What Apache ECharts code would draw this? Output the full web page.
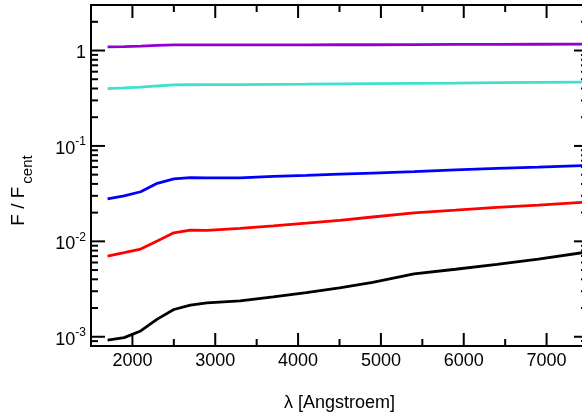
<!DOCTYPE html>
<html>
<head>
<meta charset="UTF-8">
<script src="https://cdn.jsdelivr.net/npm/echarts@6/dist/echarts.min.js"></script>
<style>
    html, body { margin: 0; padding: 0; background: #fff; }
    #chart { width: 582px; height: 412px; }
</style>
</head>
<body>
<div id="chart"></div>
<script>
    // wavelength grid (Angstroem) and flux ratios
    var wavelength = [1700, 1900, 2100, 2300, 2500, 2700, 2900, 3300, 3700, 4100, 4500, 4900, 5400, 5900, 6400, 6900, 7450];
    var fluxPurple = [1.093, 1.10, 1.112, 1.13, 1.145, 1.147, 1.148, 1.148, 1.148, 1.148, 1.149, 1.15, 1.155, 1.158, 1.16, 1.163, 1.167];
    var fluxCyan   = [0.399, 0.405, 0.413, 0.425, 0.436, 0.438, 0.439, 0.440, 0.442, 0.444, 0.447, 0.450, 0.453, 0.456, 0.460, 0.463, 0.466];
    var fluxBlue   = [0.0278, 0.0299, 0.0331, 0.0406, 0.0451, 0.0465, 0.0462, 0.0462, 0.0480, 0.0492, 0.0506, 0.0520, 0.0537, 0.0560, 0.0583, 0.0600, 0.0622];
    var fluxRed    = [0.0070, 0.0076, 0.0083, 0.0101, 0.0123, 0.0131, 0.0130, 0.0137, 0.0145, 0.0155, 0.0166, 0.0180, 0.0199, 0.0212, 0.0227, 0.0240, 0.0257];
    var fluxBlack  = [0.00092, 0.00098, 0.00115, 0.00153, 0.00193, 0.00215, 0.00227, 0.00238, 0.00262, 0.00290, 0.00325, 0.00372, 0.00455, 0.00510, 0.00575, 0.00650, 0.00765];

    // tick values and labels
    var xMajor = [2000, 3000, 4000, 5000, 6000, 7000];
    var xMinor = [2500, 3500, 4500, 5500, 6500];
    var yMajor = [0.001, 0.01, 0.1, 1];
    var yLabels = ['{b|10}{s|-3}', '{b|10}{s|-2}', '{b|10}{s|-1}', '{b|1}'];
    var yMinor = [0.0008, 0.0009,
        0.002, 0.003, 0.004, 0.005, 0.006, 0.007, 0.008, 0.009,
        0.02, 0.03, 0.04, 0.05, 0.06, 0.07, 0.08, 0.09,
        0.2, 0.3, 0.4, 0.5, 0.6, 0.7, 0.8, 0.9,
        2, 3];

    var FONT = '"Liberation Sans", Arial, sans-serif';

    function pairs(ys) {
        return wavelength.map(function (x, i) { return [x, ys[i]]; });
    }

    var xTickData = xMajor.map(function (v) { return [v, 1, 1]; })
        .concat(xMinor.map(function (v) { return [v, 1, 0]; }));
    var yTickData = yMajor.map(function (v, i) { return [1500, v, 1, i]; })
        .concat(yMinor.map(function (v) { return [1500, v, 0, -1]; }));

    function renderXTick(params, api) {
        var cs = params.coordSys;
        var x = api.coord([api.value(0), 1])[0];
        var major = api.value(2) === 1;
        var len = major ? 13 : 7;
        var bottom = cs.y + cs.height, top = cs.y;
        var kids = [
            { type: 'line', shape: { x1: x, y1: bottom, x2: x, y2: bottom - len }, style: { stroke: '#000', lineWidth: 2 } },
            { type: 'line', shape: { x1: x, y1: top, x2: x, y2: top + len }, style: { stroke: '#000', lineWidth: 2 } }
        ];
        if (major) {
            kids.push({
                type: 'text', x: x, y: bottom + 6,
                style: { text: String(api.value(0)), fontSize: 18, fontFamily: FONT, fill: '#000', align: 'center', verticalAlign: 'top' }
            });
        }
        return { type: 'group', children: kids };
    }

    function renderYTick(params, api) {
        var cs = params.coordSys;
        var y = api.coord([1500, api.value(1)])[1];
        var major = api.value(2) === 1;
        var len = major ? 14 : 7;
        var left = cs.x, right = cs.x + cs.width;
        var kids = [
            { type: 'line', shape: { x1: left, y1: y, x2: left + len, y2: y }, style: { stroke: '#000', lineWidth: 2 } },
            { type: 'line', shape: { x1: right, y1: y, x2: right - len, y2: y }, style: { stroke: '#000', lineWidth: 2 } }
        ];
        if (major) {
            kids.push({
                type: 'text', x: left - 5, y: y + 1,
                style: {
                    text: yLabels[api.value(3)], align: 'right', verticalAlign: 'middle', fill: '#000',
                    rich: {
                        b: { fontSize: 18, fontFamily: FONT, lineHeight: 22, verticalAlign: 'bottom' },
                        s: { fontSize: 12, fontFamily: FONT, lineHeight: 22, verticalAlign: 'top' }
                    }
                }
            });
        }
        return { type: 'group', children: kids };
    }

    var chart = echarts.init(document.getElementById('chart'));
    chart.setOption({
        animation: false,
        backgroundColor: '#fff',
        grid: {
            left: 91, top: 5, right: -6, bottom: 66, outerBoundsMode: 'none', containLabel: false,
            show: true, borderColor: '#000', borderWidth: 2
        },
        xAxis: {
            type: 'value', min: 1500, max: 7500,
            name: 'λ [Angstroem]', nameLocation: 'middle', nameGap: 48,
            nameTextStyle: { fontSize: 18, fontFamily: FONT, color: '#000' },
            axisLine: { show: false }, axisTick: { show: false }, axisLabel: { show: false }, splitLine: { show: false }
        },
        yAxis: {
            type: 'log', min: 0.0008, max: 3,
            name: '{m|F / F}{s|cent}', nameLocation: 'middle', nameGap: 56, nameRotate: 90,
            nameTextStyle: {
                color: '#000',
                padding: [0, 30, 0, 0],
                rich: {
                    m: { fontSize: 19, fontFamily: FONT, lineHeight: 26, verticalAlign: 'top' },
                    s: { fontSize: 15, fontFamily: FONT, lineHeight: 26, verticalAlign: 'bottom', padding: [0, 0, 0, 3] }
                }
            },
            axisLine: { show: false }, axisTick: { show: false }, axisLabel: { show: false }, splitLine: { show: false }
        },
        series: [
            { type: 'custom', renderItem: renderXTick, data: xTickData, silent: true, z: 1 },
            { type: 'custom', renderItem: renderYTick, data: yTickData, silent: true, z: 1 },
            { type: 'line', data: pairs(fluxPurple), showSymbol: false, lineStyle: { color: '#9400d3', width: 2.8 }, z: 3 },
            { type: 'line', data: pairs(fluxCyan), showSymbol: false, lineStyle: { color: '#40e0d0', width: 2.8 }, z: 3 },
            { type: 'line', data: pairs(fluxBlue), showSymbol: false, lineStyle: { color: '#0000ff', width: 2.8 }, z: 3 },
            { type: 'line', data: pairs(fluxRed), showSymbol: false, lineStyle: { color: '#ff0000', width: 2.8 }, z: 3 },
            { type: 'line', data: pairs(fluxBlack), showSymbol: false, lineStyle: { color: '#000000', width: 2.8 }, z: 3 }
        ]
    });
</script>
</body>
</html>
